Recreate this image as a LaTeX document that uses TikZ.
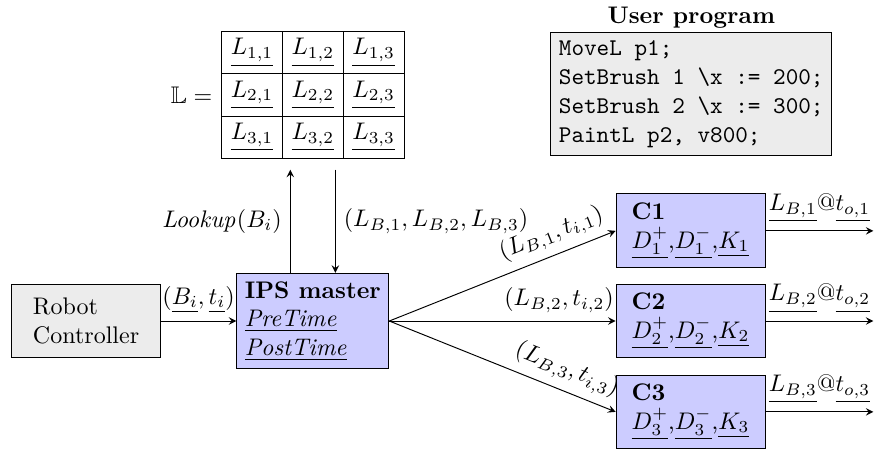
\documentclass[tikz,border=0pt]{standalone}
\usepackage{amssymb}
\usetikzlibrary{positioning,matrix}
\begin{document}
\begin{tikzpicture}
  [>=stealth]
  \tikzstyle{graybox} = [draw,fill=gray!15,align=left]
  \tikzstyle{bluebox} = [draw,fill=blue!20,align=left]
  \tikzstyle{chanbox} = [bluebox,minimum width=2.18cm,minimum height=1.08cm]
  \useasboundingbox (0,0) rectangle (12.81,6.56);

  % lookup table
  \matrix (lut) [matrix of math nodes,inner sep=0pt,
    column sep=-\pgflinewidth,row sep=-\pgflinewidth,
    nodes={draw,minimum width=0.89cm,minimum height=0.62cm,inner sep=0pt}] at (4.58,5.17) {
    \underline{L_{1,1}} & \underline{L_{1,2}} & \underline{L_{1,3}} \\
    \underline{L_{2,1}} & \underline{L_{2,2}} & \underline{L_{2,3}} \\
    \underline{L_{3,1}} & \underline{L_{3,2}} & \underline{L_{3,3}} \\
  };
  \node[left=0pt of lut] (lutname) {$\mathbb{L} =$};

  % user program
  \node[graybox] (prog) at (10.12,5.18) {\ttfamily MoveL p1;\\
    \ttfamily SetBrush 1 \textbackslash x := 200;\\
    \ttfamily SetBrush 2 \textbackslash x := 300;\\
    \ttfamily PaintL p2, v800;};
  \node[above=-2pt of prog,font=\bfseries] (progtitle) {User program};

  \node[graybox,minimum width=2.17cm,minimum height=1.08cm] (robot) at (1.26,1.86) {Robot\\Controller};
  \node[bluebox] (ips) at (4.58,1.86) {\textbf{IPS master}\\
    \underline{\textit{PreTime}}\\\underline{\textit{PostTime}}};

  \foreach \i/\y in {1/3.18,2/1.86,3/0.53}
    \node[chanbox] (c\i) at (10.11,\y) {\textbf{C\i}\\
      $\underline{D_\i^+}$,$\underline{D_\i^-}$,$\underline{K_\i}$};

  \draw[->] (robot) -- node[above] {$(\underline{B_i},\underline{t_i})$} (ips);

  \coordinate (lutfoot) at ([yshift=-0.15cm]lut.south);
  \coordinate (upfoot) at ([xshift=-0.33cm]ips.north);
  \coordinate (uptop) at (upfoot |- lutfoot);
  \coordinate (dnfoot) at ([xshift=0.33cm]ips.north);
  \coordinate (dntop) at (dnfoot |- lutfoot);
  \draw[->] (upfoot) -- node[left] {$\mathit{Lookup}(B_i)$} (uptop);
  \draw[->] (dntop) -- node[right] {$(L_{B,1},L_{B,2},L_{B,3})$} (dnfoot);

  \foreach \i in {1,2,3}
    \draw[->] (ips.east) -- node[near end,above,sloped] {$(L_{B,\i},t_{i,\i})$} (c\i.west);

  \foreach \i in {1,2,3} {
    \coordinate (out\i) at ([xshift=1.58cm]c\i.east);
    \draw[->] (c\i.east) -- node[above] {$\underline{L_{B,\i}}@\underline{t_{o,\i}}$} (out\i);
  }

\end{tikzpicture}
\end{document}
